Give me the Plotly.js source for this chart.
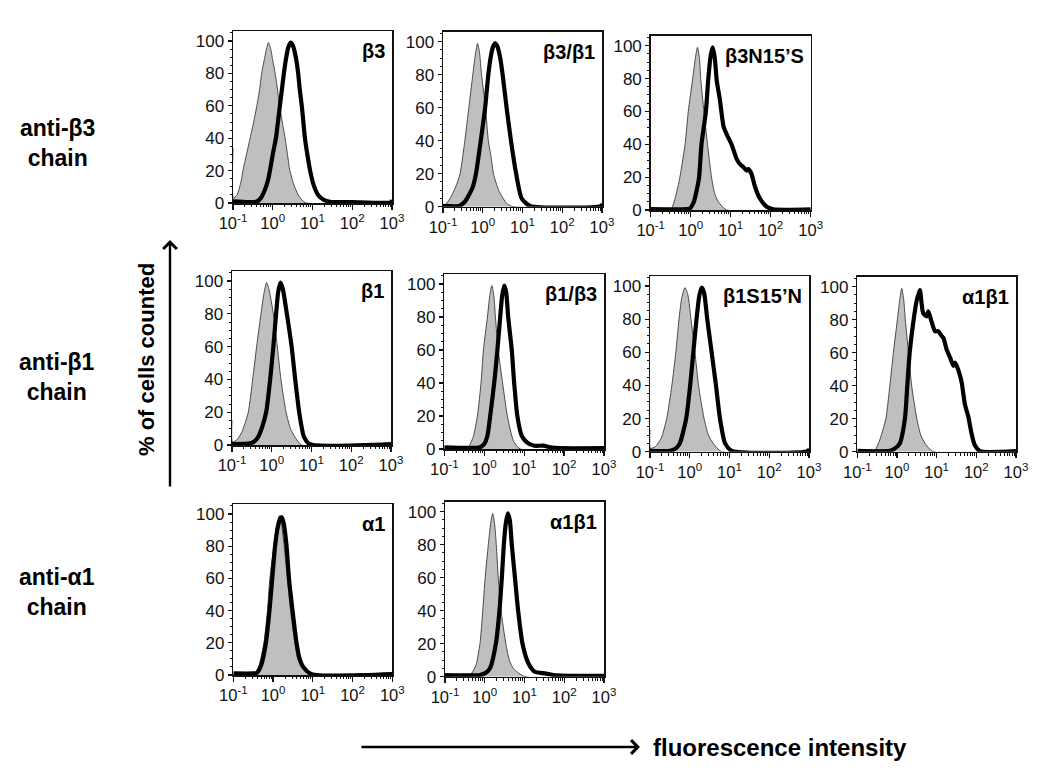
<!DOCTYPE html>
<html>
<head>
<meta charset="utf-8">
<script src="https://cdn.plot.ly/plotly-3.0.1.min.js"></script>
<style>html,body{margin:0;padding:0;background:#fff;}#chart{width:1050px;height:782px;}</style>
</head>
<body>
<div id="chart"></div>
<script>
// ---- data: x = log10(fluorescence intensity), y = % of cells counted ----
// anti-β3 chain
const b3_ctrl_lx  = [-1.0,-0.99,-0.9,-0.8,-0.75,-0.66,-0.57,-0.48,-0.40,-0.33,-0.28,-0.2,-0.15,-0.11,-0.06,0.0,0.06,0.12,0.17,0.24,0.31,0.37,0.43,0.52,0.64,0.75,0.85,3.0];
const b3_ctrl_y   = [34,3,5,13,20,30,40,50,60,70,80,90,96,99,96,88,80,70,60,50,40,30,20,12,5,1.5,0,0];
const b3_stain_lx = [-1.0,-0.6,-0.40,-0.3,-0.2,-0.12,-0.07,0.0,0.08,0.13,0.18,0.23,0.28,0.34,0.39,0.45,0.51,0.58,0.64,0.68,0.73,0.77,0.81,0.87,0.94,1.03,1.14,1.28,1.44,2.0,2.98,3.0];
const b3_stain_y  = [1,0.5,1,3,8,14,20,30,40,50,60,70,80,90,96,99,97,90,80,70,60,50,40,30,20,11,5,2,0.8,0.5,0.5,2];

const b3b1_ctrl_lx  = [-1.0,-0.91,-0.8,-0.68,-0.57,-0.45,-0.35,-0.25,-0.18,-0.13,-0.08,-0.03,0.07,0.14,0.21,0.27,0.4,0.6,0.76,3.0];
const b3b1_ctrl_y   = [0,2,6,12,20,40,60,80,93,99,93,80,60,40,30,20,10,2,0,0];
const b3b1_stain_lx = [-1.0,-0.6,-0.45,-0.35,-0.25,-0.17,-0.05,0.06,0.14,0.21,0.26,0.31,0.37,0.44,0.50,0.60,0.71,0.84,0.98,1.19,2.98,3.0];
const b3b1_stain_y  = [0.5,0.5,3,7,12,20,40,60,80,92,97,99,97,90,80,60,40,20,5,0.5,0.5,2];

const b3N15S_ctrl_lx  = [-1.0,-0.6,-0.48,-0.38,-0.27,-0.14,-0.06,0.05,0.12,0.17,0.22,0.25,0.33,0.42,0.52,0.6,0.69,0.9,3.0];
const b3N15S_ctrl_y   = [0,0,1,8,20,40,60,80,93,99,92,80,60,40,20,10,5,0,0];
const b3N15S_stain_lx = [-1.0,-0.1,-0.02,0.08,0.15,0.21,0.27,0.38,0.44,0.50,0.55,0.60,0.65,0.73,0.82,0.90,1.02,1.15,1.23,1.32,1.40,1.44,1.52,1.61,1.73,1.90,2.07,3.0];
const b3N15S_stain_y  = [0.5,0.5,1,5,12,20,40,60,80,94,99,93,79,67,51,46,40,31,28,26,24,25,22,14,7,2,0.4,0.4];

// anti-β1 chain
const b1_ctrl_lx  = [-1.0,-0.99,-0.88,-0.75,-0.59,-0.48,-0.38,-0.27,-0.2,-0.13,-0.07,0.04,0.14,0.23,0.36,0.47,0.58,0.75,3.0];
const b1_ctrl_y   = [15,2,3,8,20,40,60,80,92,99,95,80,60,40,20,10,5,0,0];
const b1_stain_lx = [-1.0,-0.55,-0.45,-0.34,-0.24,-0.14,-0.04,0.04,0.11,0.16,0.22,0.28,0.38,0.50,0.59,0.69,0.81,0.96,3.0];
const b1_stain_y  = [0.5,1,2,5,11,20,40,60,80,93,99,95,80,60,40,20,5,0.5,0.5];

const b1b3_ctrl_lx  = [-1.0,-0.5,-0.40,-0.28,-0.17,-0.08,-0.02,0.08,0.14,0.19,0.24,0.28,0.35,0.46,0.58,0.73,0.9,3.0];
const b1b3_ctrl_y   = [0,0,1,7,20,40,60,80,93,99,93,80,60,40,20,5,0,0];
const b1b3_stain_lx = [-1.0,-0.11,0.0,0.08,0.15,0.25,0.33,0.40,0.45,0.50,0.55,0.60,0.69,0.75,0.83,0.94,1.07,1.25,1.48,1.65,1.9,3.0];
const b1b3_stain_y  = [1,1,3,8,20,40,60,80,93,99,95,80,60,40,20,8,4,2,2,1,0.5,0.5];

const b1S15N_ctrl_lx  = [-1.0,-0.99,-0.87,-0.72,-0.58,-0.45,-0.35,-0.27,-0.2,-0.12,-0.05,0.03,0.13,0.22,0.36,0.47,0.59,0.8,3.0];
const b1S15N_ctrl_y   = [13,2,3,8,20,40,60,80,93,99,95,80,60,40,20,10,5,0,0];
const b1S15N_stain_lx = [-1.0,-0.5,-0.35,-0.25,-0.09,0.01,0.09,0.17,0.24,0.30,0.36,0.44,0.55,0.66,0.76,0.89,1.06,2.98,3.0];
const b1S15N_stain_y  = [0.5,0.5,2,5,20,40,60,80,94,99,96,80,60,40,20,5,0.5,0.5,2];

const a1b1r2_ctrl_lx  = [-1.0,-0.6,-0.55,-0.45,-0.28,-0.18,-0.09,0.01,0.07,0.12,0.17,0.21,0.29,0.37,0.50,0.6,0.71,0.91,3.0];
const a1b1r2_ctrl_y   = [0,0,1,6,20,40,60,80,92,99,92,80,60,40,20,10,5,0,0];
const a1b1r2_stain_lx = [-1.0,-0.18,-0.05,0.07,0.20,0.26,0.32,0.42,0.50,0.55,0.58,0.62,0.66,0.75,0.79,0.87,0.96,1.04,1.13,1.17,1.25,1.34,1.42,1.46,1.54,1.63,1.71,1.80,1.88,1.96,2.09,3.0];
const a1b1r2_stain_y  = [0.5,0.5,2,5,20,40,60,80,92,96,98,90,84,82,85,79,73,73,70,69,62,57,52,54,50,42,29,21,11,4,0.3,0.3];

// anti-α1 chain
const a1_ctrl_lx  = [-1.0,-0.5,-0.45,-0.35,-0.23,-0.14,-0.08,0.02,0.09,0.16,0.22,0.28,0.36,0.44,0.55,0.62,0.72,0.93,3.0];
const a1_ctrl_y   = [0,0,1,6,20,40,60,80,93,99,92,80,60,40,20,10,5,0,0];
const a1_stain_lx = [-1.0,-0.5,-0.40,-0.3,-0.18,-0.09,-0.02,0.05,0.12,0.18,0.22,0.27,0.34,0.40,0.49,0.59,0.67,0.76,0.97,3.0];
const a1_stain_y  = [1,1,1.5,6,20,40,60,80,92,97,98,94,80,60,40,20,10,5,0.5,0.5];

const a1b1r3_ctrl_lx  = [-1.0,-0.45,-0.33,-0.22,-0.12,-0.05,0.01,0.09,0.15,0.20,0.25,0.29,0.34,0.41,0.53,0.62,0.72,1.01,3.0];
const a1b1r3_ctrl_y   = [0,0,2,7,20,40,60,80,93,99,92,80,60,40,20,10,5,0,0];
const a1b1r3_stain_lx = [-1.0,-0.12,0.0,0.13,0.28,0.37,0.43,0.48,0.53,0.58,0.63,0.68,0.76,0.84,0.95,1.10,1.26,1.52,1.81,3.0];
const a1b1r3_stain_y  = [1,1,2,5,20,40,60,80,93,99,95,80,60,40,20,8,3,2,0.8,0.5];

const panelLabels = ['β3','β3/β1','β3N15’S','β1','β1/β3','β1S15’N','α1β1','α1','α1β1'];
const rowLabels = ['anti-β3<br>chain','anti-β1<br>chain','anti-α1<br>chain'];
const yTickVals = [0,20,40,60,80,100];
const xTickVals = [0.1,1,10,100,1000];
const xTickText = ['10<sup>-1</sup>','10<sup>0</sup>','10<sup>1</sup>','10<sup>2</sup>','10<sup>3</sup>'];
const yTitle = '% of cells counted';
const xTitle = 'fluorescence intensity';

// ---- layout configuration (pixel boxes: left, right, y at 100, y at 0) ----
const W = 1050, H = 782;
const panelData = [
  [b3_ctrl_lx,b3_ctrl_y,b3_stain_lx,b3_stain_y],
  [b3b1_ctrl_lx,b3b1_ctrl_y,b3b1_stain_lx,b3b1_stain_y],
  [b3N15S_ctrl_lx,b3N15S_ctrl_y,b3N15S_stain_lx,b3N15S_stain_y],
  [b1_ctrl_lx,b1_ctrl_y,b1_stain_lx,b1_stain_y],
  [b1b3_ctrl_lx,b1b3_ctrl_y,b1b3_stain_lx,b1b3_stain_y],
  [b1S15N_ctrl_lx,b1S15N_ctrl_y,b1S15N_stain_lx,b1S15N_stain_y],
  [a1b1r2_ctrl_lx,a1b1r2_ctrl_y,a1b1r2_stain_lx,a1b1r2_stain_y],
  [a1_ctrl_lx,a1_ctrl_y,a1_stain_lx,a1_stain_y],
  [a1b1r3_ctrl_lx,a1b1r3_ctrl_y,a1b1r3_stain_lx,a1b1r3_stain_y]
];
const boxes = [
  [233,392,41,203],[443,602,41.7,206.7],[650.7,810.7,45.7,210],
  [232,391,281,445],[444.3,604,284,449],[650,809,286,451.7],[857.3,1016,286.7,451.7],
  [233.3,392.3,514,675],[445,604,511.7,676.7]
];
const YMAX = 106;
const rowLabelY = [143,377,592];

const FONT = 'Liberation Sans, Arial, Helvetica, sans-serif';
const px = v => v / W;
const py = v => 1 - v / H;

const traces = [];
const layout = {
  width: W, height: H,
  margin: {l:0, r:0, t:0, b:0},
  paper_bgcolor: '#fff', plot_bgcolor: '#fff',
  showlegend: false,
  font: {family: FONT, color: '#111'},
  annotations: []
};

panelData.forEach((d, i) => {
  const k = i + 1;
  const xa = 'x' + (k === 1 ? '' : k), ya = 'y' + (k === 1 ? '' : k);
  const [l, r, y100, y0] = boxes[i];
  const top = y0 - (y0 - y100) * YMAX / 100;
  traces.push({
    x: d[0].map(v => Math.pow(10, v)), y: d[1], xaxis: xa, yaxis: ya,
    type: 'scatter', mode: 'lines', fill: 'tozeroy',
    fillcolor: '#bfbfbf', line: {color: '#4a4a4a', width: 1, shape: 'spline', smoothing: 0.6},
    hoverinfo: 'skip'
  });
  traces.push({
    x: d[2].map(v => Math.pow(10, v)), y: d[3], xaxis: xa, yaxis: ya,
    type: 'scatter', mode: 'lines',
    line: {color: '#000', width: 4.2, shape: 'spline', smoothing: 0.6},
    hoverinfo: 'skip'
  });
  layout['xaxis' + (k === 1 ? '' : k)] = {
    domain: [px(l), px(r)], anchor: ya, type: 'log', range: [-1, 3],
    tickvals: xTickVals, ticktext: xTickText,
    ticks: 'outside', ticklen: 5, tickwidth: 1.2, tickcolor: '#111',
    minor: {dtick: 'D1', ticks: 'outside', ticklen: 2.5, tickwidth: 1, tickcolor: '#111', showgrid: false},
    showline: true, mirror: true, linecolor: '#111', linewidth: 1.5,
    showgrid: false, zeroline: false, fixedrange: true,
    tickfont: {family: FONT, size: 16.5, color: '#111'}
  };
  layout['yaxis' + (k === 1 ? '' : k)] = {
    domain: [py(y0), py(top)], anchor: xa, range: [0, YMAX],
    tickvals: yTickVals, ticks: 'outside', ticklen: 4, tickwidth: 1.2, tickcolor: '#111',
    minor: {dtick: 5, ticks: 'outside', ticklen: 2, tickwidth: 1, tickcolor: '#111', showgrid: false},
    showline: true, mirror: true, linecolor: '#111', linewidth: 1.5,
    showgrid: false, zeroline: false, fixedrange: true,
    tickfont: {family: FONT, size: 17, color: '#111'}
  };
  layout.annotations.push({
    xref: 'paper', yref: 'paper', x: px(r - 5), y: py(top + 7),
    xanchor: 'right', yanchor: 'top', showarrow: false,
    text: '<b>' + panelLabels[i] + '</b>',
    font: {family: FONT, size: 20, color: '#000'}
  });
});

rowLabels.forEach((t, i) => {
  layout.annotations.push({
    xref: 'paper', yref: 'paper', x: px(57), y: py(rowLabelY[i]),
    xanchor: 'center', yanchor: 'middle', showarrow: false, align: 'center',
    text: '<b>' + t + '</b>', font: {family: FONT, size: 23, color: '#000'}
  });
});

// y-axis title and arrow
layout.annotations.push({
  xref: 'paper', yref: 'paper', x: px(147), y: py(360), textangle: -90,
  xanchor: 'center', yanchor: 'middle', showarrow: false,
  text: '<b>' + yTitle + '</b>', font: {family: FONT, size: 22, color: '#000'}
});
layout.annotations.push({
  xref: 'paper', yref: 'paper', x: px(170), y: py(240), ax: 0, ay: 248,
  text: '', showarrow: true, arrowhead: 4, arrowsize: 1.1, arrowwidth: 2.4, arrowcolor: '#000', standoff: 0
});
// x-axis title and arrow
layout.annotations.push({
  xref: 'paper', yref: 'paper', x: px(640), y: py(747), ax: -280, ay: 0,
  text: '', showarrow: true, arrowhead: 4, arrowsize: 1.1, arrowwidth: 2.4, arrowcolor: '#000', standoff: 0
});
layout.annotations.push({
  xref: 'paper', yref: 'paper', x: px(651), y: py(747),
  xanchor: 'left', yanchor: 'middle', showarrow: false,
  text: '<b>' + xTitle + '</b>', font: {family: FONT, size: 24, color: '#000'}
});

Plotly.newPlot('chart', traces, layout, {staticPlot: true, displayModeBar: false});
</script>
</body>
</html>
